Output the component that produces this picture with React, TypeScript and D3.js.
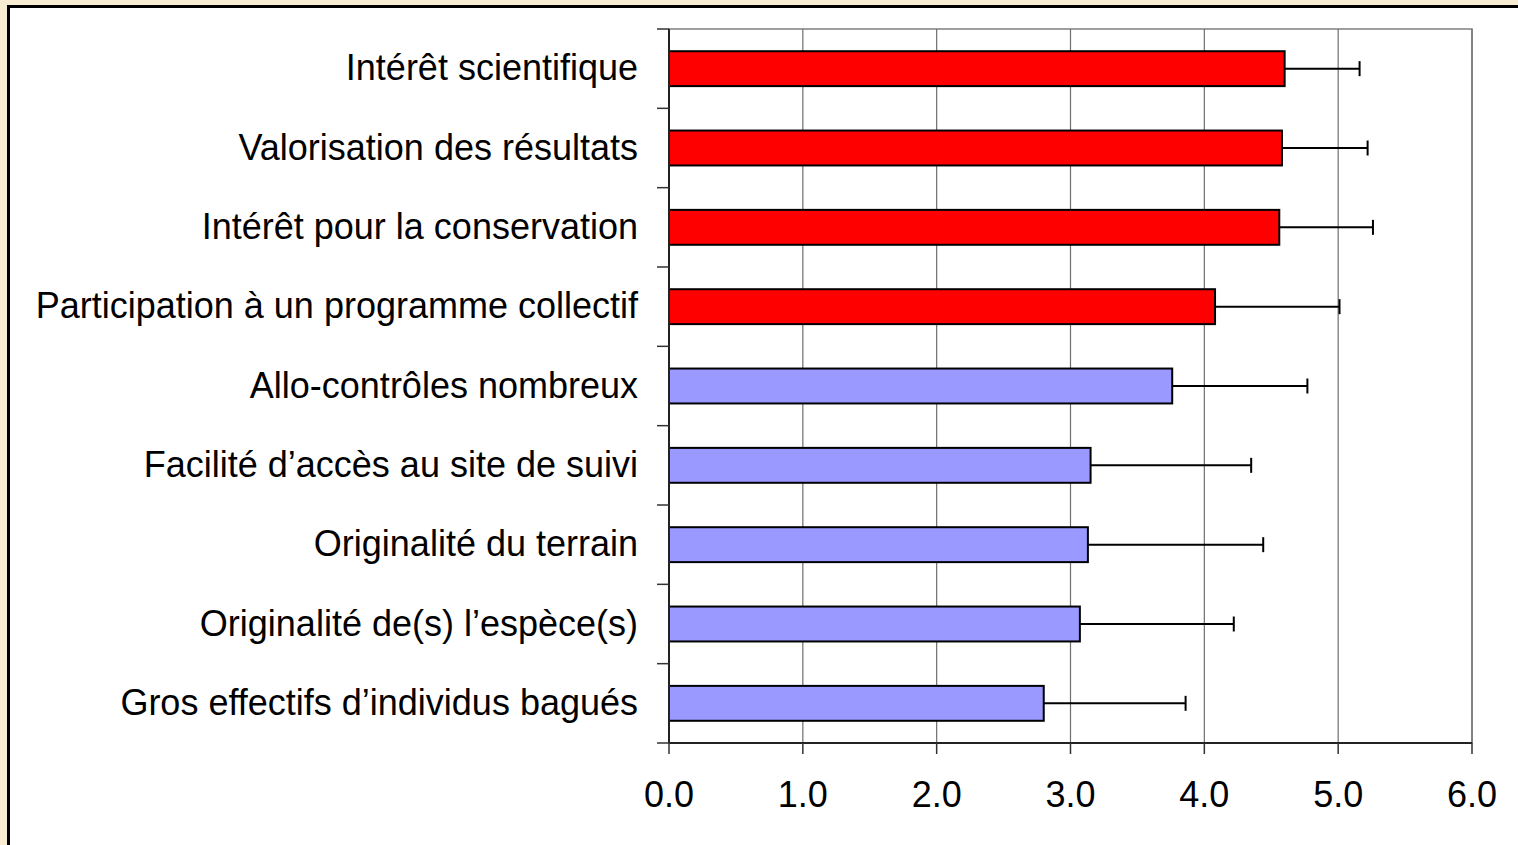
import React from "react";
import * as d3 from "d3";

const categories = [
  "Intérêt scientifique",
  "Valorisation des résultats",
  "Intérêt pour la conservation",
  "Participation à un programme collectif",
  "Allo-contrôles nombreux",
  "Facilité d’accès au site de suivi",
  "Originalité du terrain",
  "Originalité de(s) l’espèce(s)",
  "Gros effectifs d’individus bagués",
];
const means = [4.6, 4.58, 4.56, 4.08, 3.76, 3.15, 3.13, 3.07, 2.8];
const errors = [0.56, 0.64, 0.7, 0.93, 1.01, 1.2, 1.31, 1.15, 1.06];
const highlighted = [true, true, true, true, false, false, false, false, false];
const xTicks = [0, 1, 2, 3, 4, 5, 6];

export default function App() {
  const W = 1518, H = 845;
  const left = 669, right = 1472, top = 29, bottom = 743;
  const x = d3.scaleLinear().domain([0, 6]).range([left, right]);
  const y = d3.scaleBand().domain(categories).range([top, bottom]).paddingInner(0.56).paddingOuter(0.28);
  const step = (bottom - top) / categories.length;
  const font = "Arial, 'Liberation Sans', sans-serif";
  return (
    <svg width={W} height={H} style={{ position: "absolute", left: 0, top: 0 }}>
      <rect x={0} y={0} width={W} height={H} fill="#f8ecd2" />
      <rect x={8.5} y={6.5} width={W + 20} height={H + 20} fill="#ffffff" stroke="#000" strokeWidth={3} />
      {/* plot area frame */}
      <rect x={left} y={top} width={right - left} height={bottom - top} fill="#fff" stroke="#808080" strokeWidth={1.5} />
      {xTicks.slice(1).map((t) => (
        <line key={t} x1={x(t)} x2={x(t)} y1={top} y2={bottom} stroke="#6e6e6e" strokeWidth={1.2} />
      ))}
      {/* bars */}
      {categories.map((c, i) => {
        const yc = (y(c) as number) + y.bandwidth() / 2;
        return (
          <g key={c}>
            <line x1={x(means[i])} x2={x(means[i] + errors[i])} y1={yc} y2={yc} stroke="#000" strokeWidth={2} />
            <line x1={x(means[i] + errors[i])} x2={x(means[i] + errors[i])} y1={yc - 7.5} y2={yc + 7.5} stroke="#000" strokeWidth={2} />
            <rect x={x(0)} y={y(c)} width={x(means[i]) - x(0)} height={y.bandwidth()}
              fill={highlighted[i] ? "#ff0000" : "#9999ff"} stroke="#000" strokeWidth={2} />
            <text x={638} y={yc + 11.5} textAnchor="end" fontFamily={font} fontSize={36} fill="#000">{c}</text>
          </g>
        );
      })}
      {/* y axis */}
      <line x1={left} x2={left} y1={top} y2={bottom} stroke="#222" strokeWidth={2} />
      {d3.range(categories.length + 1).map((k) => (
        <line key={k} x1={657} x2={left} y1={top + k * step} y2={top + k * step} stroke="#333" strokeWidth={1.5} />
      ))}
      {/* x axis */}
      <line x1={left} x2={right} y1={bottom} y2={bottom} stroke="#222" strokeWidth={2} />
      {xTicks.map((t) => (
        <g key={t}>
          <line x1={x(t)} x2={x(t)} y1={bottom} y2={bottom + 11} stroke="#333" strokeWidth={1.5} />
          <text x={x(t)} y={807} textAnchor="middle" fontFamily={font} fontSize={36} fill="#000">{t.toFixed(1)}</text>
        </g>
      ))}
    </svg>
  );
}
